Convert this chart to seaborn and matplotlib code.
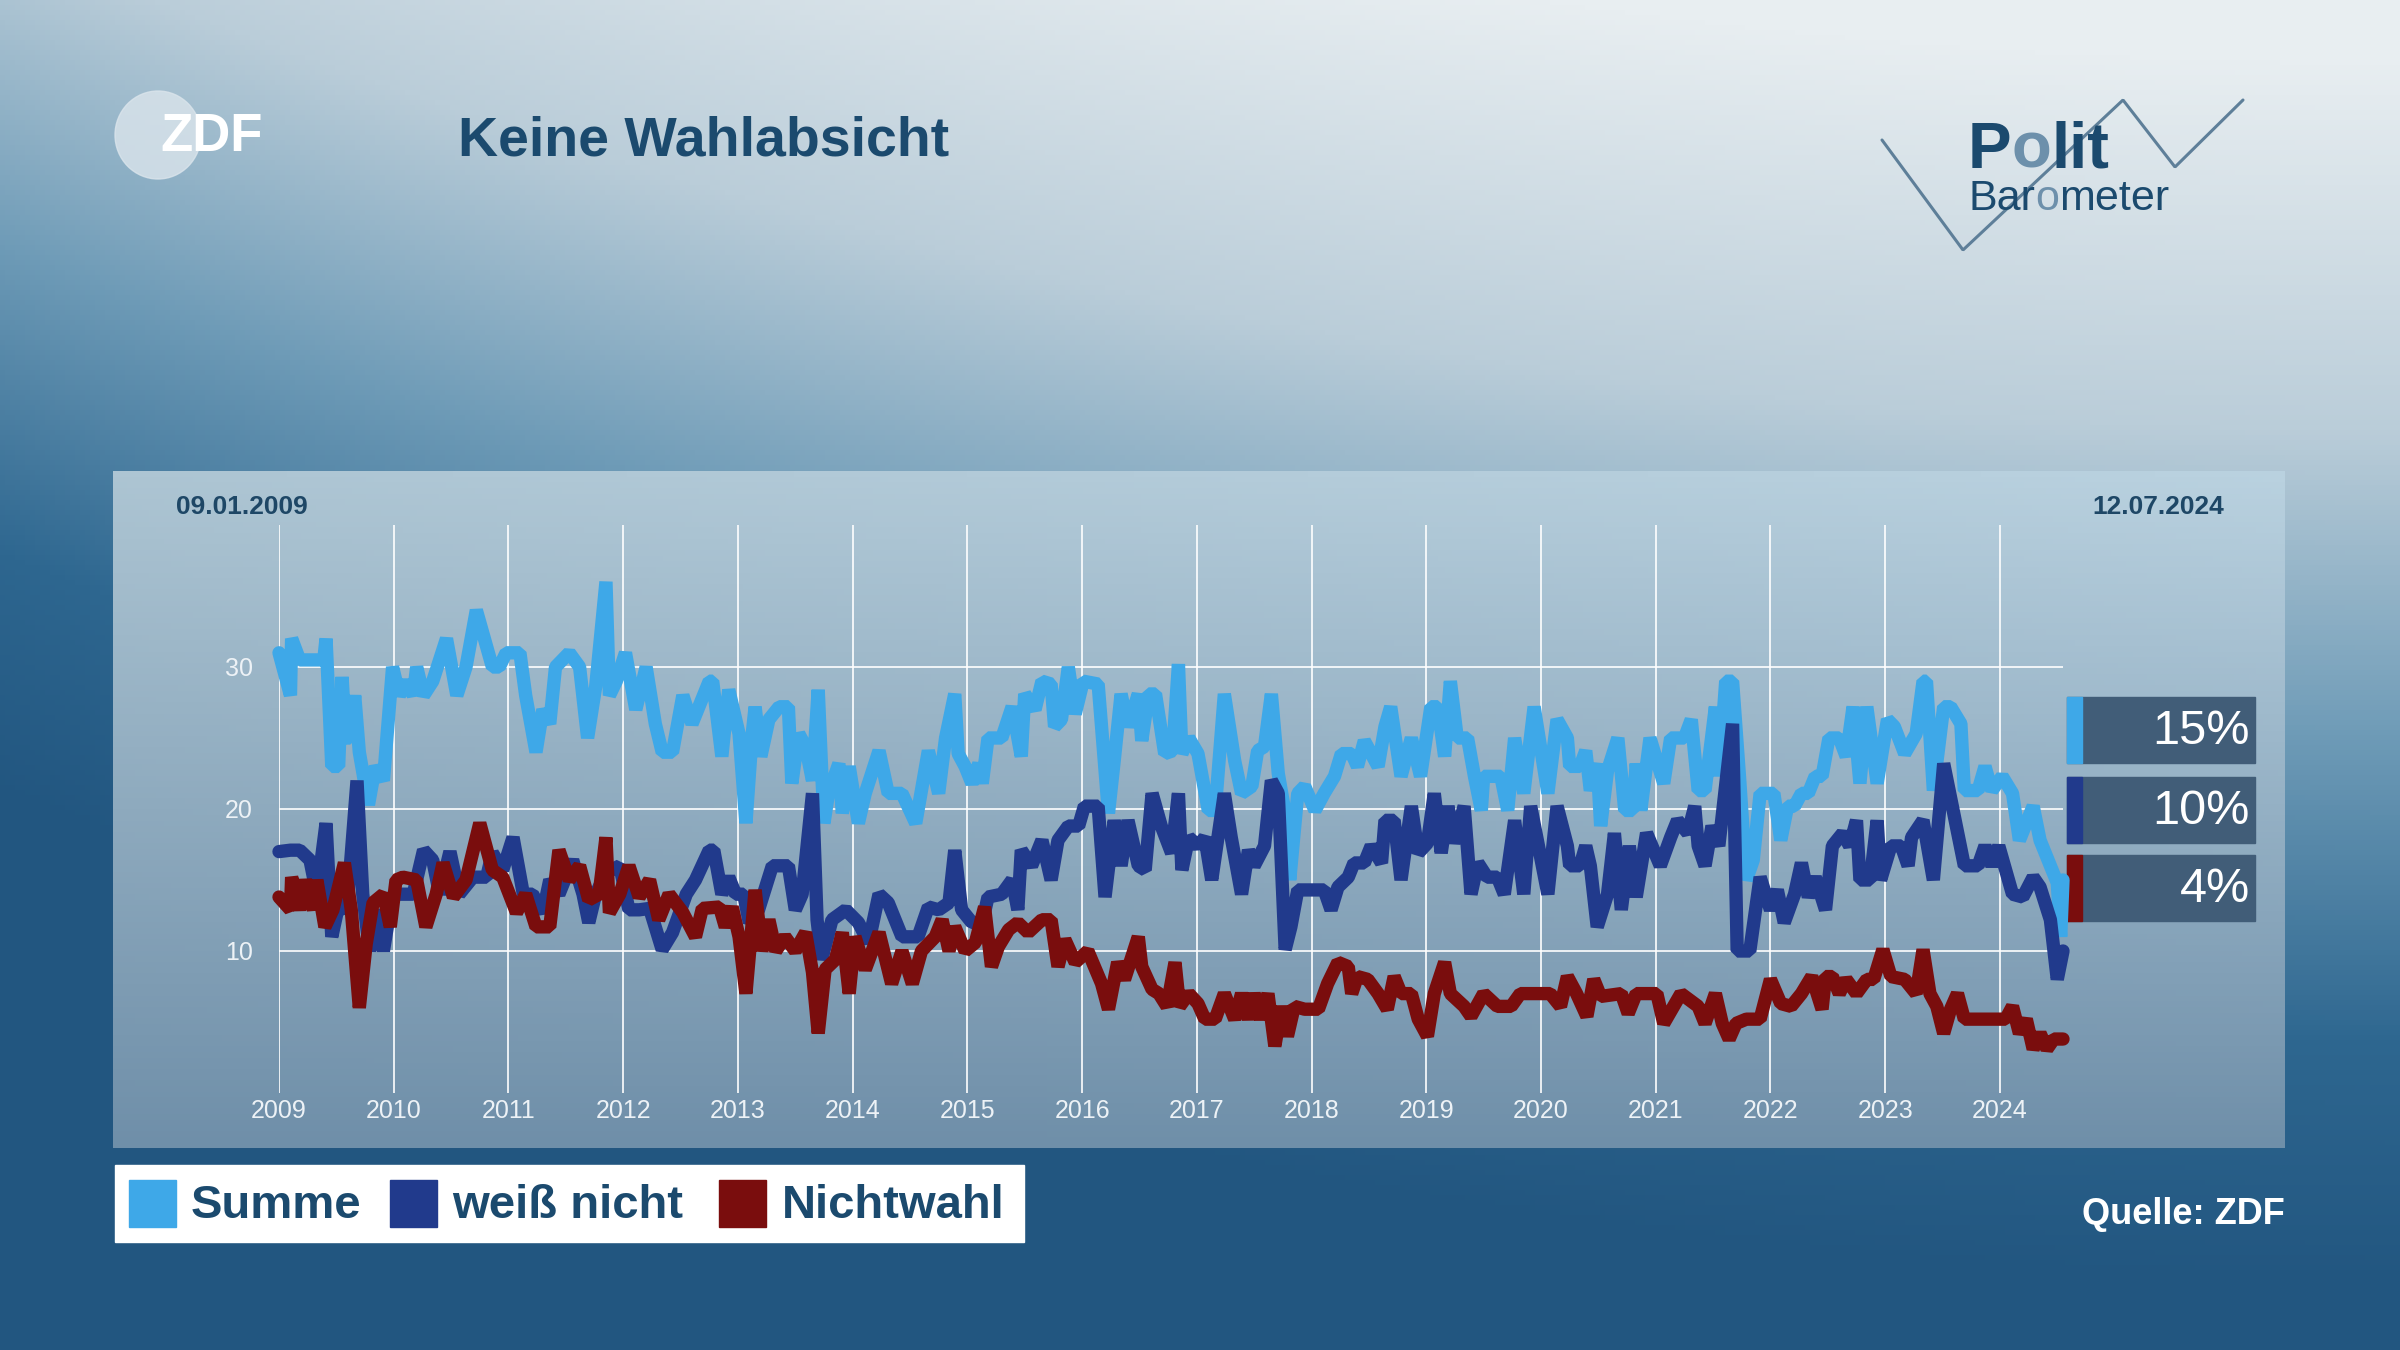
import numpy as np
import pandas as pd
import matplotlib
matplotlib.use("Agg")
import matplotlib.pyplot as plt
from matplotlib.patches import Rectangle, Ellipse
from matplotlib.colors import to_rgb
import seaborn as sns

# ---- data (dates as decimal years) ----
summe_t = [2009.00, 2009.10, 2009.11, 2009.18, 2009.39, 2009.41, 2009.46, 2009.52, 2009.55, 2009.58,
           2009.62, 2009.66, 2009.70, 2009.78, 2009.84, 2009.91, 2009.99, 2010.05, 2010.11, 2010.17,
           2010.20, 2010.26, 2010.34, 2010.46, 2010.55, 2010.63, 2010.72, 2010.86, 2010.92, 2010.98,
           2011.10, 2011.15, 2011.24, 2011.30, 2011.36, 2011.41, 2011.53, 2011.62, 2011.69, 2011.76,
           2011.85, 2011.88, 2011.94, 2012.02, 2012.11, 2012.20, 2012.28, 2012.34, 2012.43, 2012.52,
           2012.60, 2012.75, 2012.78, 2012.86, 2012.92, 2013.01, 2013.07, 2013.125, 2013.15, 2013.20,
           2013.27, 2013.36, 2013.44, 2013.47, 2013.53, 2013.59, 2013.65, 2013.70, 2013.75, 2013.79,
           2013.88, 2013.91, 2013.97, 2014.05, 2014.11, 2014.23, 2014.31, 2014.43, 2014.55, 2014.66,
           2014.75, 2014.81, 2014.89, 2014.92, 2014.98, 2015.04, 2015.10, 2015.13, 2015.18, 2015.30,
           2015.39, 2015.47, 2015.50, 2015.59, 2015.65, 2015.73, 2015.76, 2015.82, 2015.88, 2015.94,
           2016.01, 2016.14, 2016.23, 2016.28, 2016.34, 2016.40, 2016.49, 2016.52, 2016.58, 2016.64,
           2016.72, 2016.79, 2016.84, 2016.87, 2016.93, 2017.01, 2017.10, 2017.16, 2017.24, 2017.33,
           2017.39, 2017.48, 2017.53, 2017.59, 2017.65, 2017.71, 2017.77, 2017.81, 2017.88, 2017.94,
           2018.03, 2018.11, 2018.20, 2018.26, 2018.35, 2018.40, 2018.46, 2018.52, 2018.58, 2018.64,
           2018.69, 2018.78, 2018.87, 2018.95, 2019.04, 2019.10, 2019.16, 2019.21, 2019.27, 2019.36,
           2019.42, 2019.48, 2019.50, 2019.65, 2019.71, 2019.77, 2019.85, 2019.94, 2020.06, 2020.14,
           2020.23, 2020.25, 2020.34, 2020.39, 2020.43, 2020.49, 2020.52, 2020.58, 2020.67, 2020.73,
           2020.80, 2020.83, 2020.87, 2020.95, 2021.07, 2021.13, 2021.25, 2021.31, 2021.37, 2021.43,
           2021.52, 2021.55, 2021.61, 2021.67, 2021.73, 2021.79, 2021.85, 2021.91, 2022.03, 2022.09,
           2022.15, 2022.21, 2022.27, 2022.33, 2022.39, 2022.45, 2022.51, 2022.60, 2022.66, 2022.72,
           2022.78, 2022.84, 2022.93, 2023.02, 2023.08, 2023.17, 2023.27, 2023.33, 2023.36, 2023.42,
           2023.51, 2023.57, 2023.66, 2023.69, 2023.81, 2023.87, 2023.93, 2024.02, 2024.11, 2024.17,
           2024.29, 2024.35, 2024.44, 2024.50, 2024.53, 2024.55]
summe_v = [31, 28, 32, 30.5, 30.5, 32, 23, 23, 29.3, 25,
           25, 28, 24, 20.3, 23, 22, 30, 28, 29, 28,
           30, 28, 29, 32, 28, 30, 34, 30, 30, 31,
           31, 28, 24, 27, 26, 30, 31, 30, 25, 28.6,
           36, 28, 29, 31, 27, 30, 26, 24, 24, 28,
           26, 29, 29, 23.7, 28.4, 25.3, 19, 25.3, 27.2, 23.7,
           26.3, 27.2, 27.2, 21.8, 25.3, 24.4, 22, 28.4, 19, 21.1,
           23.2, 19.7, 23, 19, 21.1, 24.1, 21.1, 21.1, 19, 24.1,
           21.1, 25, 28.1, 23.9, 23, 21.8, 23.2, 21.8, 25, 25,
           27.2, 23.7, 28.1, 27, 29, 28.8, 25.8, 26.3, 30, 26.7,
           29, 28.8, 19.7, 23.4, 28.1, 25.8, 28.1, 24.8, 28.1, 28.1,
           23.9, 24.1, 30.2, 23.9, 25, 23.9, 19.9, 19.9, 28.1, 23.4,
           21.1, 21.6, 24.1, 24.4, 28.1, 22.5, 19.7, 15, 21.1, 21.6,
           19.9, 21.1, 22.3, 23.9, 23.9, 23, 24.8, 23.9, 23, 25.8,
           27.2, 22.3, 25, 22.3, 27.2, 27.2, 23.7, 29, 25, 25,
           22.3, 19.9, 22.3, 22.3, 19.9, 25, 21.1, 27.2, 21.1, 26.3,
           25, 23, 23, 24.1, 21.3, 23.2, 18.8, 22.7, 25, 19.9,
           19.9, 23.2, 19.9, 25, 21.8, 25, 25, 26.3, 21.3, 21.3,
           27.2, 22.3, 29, 29, 22.3, 15, 16.4, 21.1, 21.1, 17.8,
           20.2, 20.2, 21.1, 21.1, 22.3, 22.3, 25, 25, 23.7, 27.2,
           21.8, 27.2, 21.8, 26.3, 25.8, 23.9, 25.3, 29, 29, 21.3,
           27.2, 27.2, 26, 21.3, 21.3, 23, 21.3, 22.3, 21.1, 17.8,
           20.2, 17.8, 16, 14.8, 11, 15]

weiss_t = [2009.00, 2009.10, 2009.18, 2009.27, 2009.33, 2009.41, 2009.46, 2009.53, 2009.59, 2009.68,
           2009.73, 2009.79, 2009.85, 2009.91, 2009.99, 2010.05, 2010.17, 2010.26, 2010.34, 2010.40,
           2010.49, 2010.57, 2010.69, 2010.81, 2010.86, 2010.95, 2011.04, 2011.13, 2011.21, 2011.30,
           2011.36, 2011.44, 2011.56, 2011.65, 2011.70, 2011.76, 2011.85, 2011.97, 2012.05, 2012.14,
           2012.23, 2012.34, 2012.43, 2012.55, 2012.63, 2012.75, 2012.79, 2012.86, 2012.92, 2012.98,
           2013.05, 2013.10, 2013.18, 2013.30, 2013.44, 2013.50, 2013.56, 2013.65, 2013.69, 2013.73,
           2013.82, 2013.94, 2014.05, 2014.14, 2014.23, 2014.31, 2014.43, 2014.57, 2014.66, 2014.75,
           2014.84, 2014.89, 2014.95, 2015.04, 2015.13, 2015.18, 2015.30, 2015.39, 2015.44, 2015.47,
           2015.56, 2015.65, 2015.73, 2015.79, 2015.88, 2015.97, 2016.02, 2016.14, 2016.20, 2016.28,
           2016.34, 2016.40, 2016.49, 2016.55, 2016.61, 2016.69, 2016.78, 2016.84, 2016.87, 2016.93,
           2017.01, 2017.07, 2017.13, 2017.24, 2017.30, 2017.39, 2017.45, 2017.50, 2017.59, 2017.65,
           2017.71, 2017.77, 2017.82, 2017.88, 2017.97, 2018.11, 2018.17, 2018.23, 2018.32, 2018.37,
           2018.46, 2018.52, 2018.61, 2018.64, 2018.72, 2018.78, 2018.87, 2018.93, 2019.01, 2019.07,
           2019.13, 2019.19, 2019.24, 2019.33, 2019.39, 2019.45, 2019.53, 2019.62, 2019.68, 2019.77,
           2019.85, 2019.91, 2020.06, 2020.14, 2020.23, 2020.25, 2020.34, 2020.39, 2020.43, 2020.49,
           2020.58, 2020.64, 2020.70, 2020.77, 2020.83, 2020.92, 2021.04, 2021.13, 2021.19, 2021.28,
           2021.34, 2021.37, 2021.43, 2021.49, 2021.55, 2021.67, 2021.71, 2021.82, 2021.91, 2022.00,
           2022.06, 2022.12, 2022.21, 2022.27, 2022.33, 2022.39, 2022.48, 2022.54, 2022.63, 2022.69,
           2022.75, 2022.78, 2022.87, 2022.93, 2022.96, 2023.05, 2023.14, 2023.20, 2023.23, 2023.33,
           2023.42, 2023.51, 2023.69, 2023.81, 2023.87, 2023.93, 2023.99, 2024.11, 2024.20, 2024.29,
           2024.35, 2024.44, 2024.50, 2024.55]
weiss_v = [17, 17.1, 17.1, 16.4, 14, 19, 11, 13.6, 12.7, 22,
           14, 10, 12.9, 10, 14, 14, 14, 17.1, 16.4, 14,
           17, 14, 15.2, 15.2, 16.9, 15.7, 18, 14, 14, 12.7,
           15, 14, 16.4, 14, 12, 14, 15.5, 16, 12.9, 12.9,
           13, 10.1, 11.3, 14, 15, 17.1, 17.1, 14, 15.2, 14,
           14, 12, 12.9, 16, 16, 12.9, 14, 21.1, 12.2, 9.4,
           12.2, 12.9, 12, 10.6, 14, 13.4, 11, 11, 13.1, 12.9,
           13.4, 17.1, 12.9, 12, 12, 13.8, 14, 15, 12.9, 17.1,
           16, 17.8, 15, 17.8, 18.8, 18.8, 20.2, 20.2, 13.8, 19.2,
           16, 19.2, 16, 15.7, 21.1, 18.8, 16.9, 21.1, 15.7, 18,
           17.4, 18, 15, 21.1, 18, 14, 17.1, 16, 17.4, 22,
           21.1, 10.1, 11.7, 14.3, 14.3, 14.3, 12.9, 14.5, 15.2, 16.2,
           16.2, 17.4, 16.2, 19.2, 19.2, 15, 20.2, 16.9, 17.6, 21.1,
           16.9, 20.2, 17.6, 20.2, 14, 16.2, 15.2, 15.2, 14, 19.2,
           14, 20.2, 14, 20.2, 17.4, 16, 16, 17.4, 16, 11.7,
           14, 18.3, 12.9, 17.4, 13.8, 18.3, 16, 18, 19.2, 18.3,
           20.2, 17.4, 16, 18.8, 17.4, 26, 10, 10, 15.2, 12.9,
           14.3, 12, 14, 16.2, 13.8, 15.2, 12.9, 17.4, 18.3, 17.4,
           19.2, 15, 15, 19.2, 15, 17.4, 17.4, 16, 18, 19.2,
           15, 23.2, 16, 16, 17.4, 16, 17.4, 14, 13.8, 15.2,
           14.5, 12.2, 8, 10]

nicht_t = [2009.00, 2009.10, 2009.11, 2009.18, 2009.23, 2009.30, 2009.33, 2009.40, 2009.47, 2009.57,
           2009.63, 2009.70, 2009.76, 2009.82, 2009.91, 2009.97, 2010.02, 2010.08, 2010.20, 2010.28,
           2010.37, 2010.43, 2010.52, 2010.63, 2010.75, 2010.86, 2010.95, 2011.07, 2011.15, 2011.24,
           2011.36, 2011.44, 2011.53, 2011.62, 2011.70, 2011.79, 2011.85, 2011.88, 2011.97, 2012.05,
           2012.14, 2012.23, 2012.31, 2012.40, 2012.52, 2012.63, 2012.69, 2012.84, 2012.89, 2012.95,
           2013.01, 2013.07, 2013.15, 2013.21, 2013.27, 2013.33, 2013.41, 2013.50, 2013.59, 2013.65,
           2013.70, 2013.76, 2013.85, 2013.91, 2013.97, 2014.02, 2014.11, 2014.23, 2014.34, 2014.43,
           2014.52, 2014.60, 2014.72, 2014.78, 2014.84, 2014.89, 2014.98, 2015.07, 2015.15, 2015.21,
           2015.27, 2015.36, 2015.44, 2015.53, 2015.65, 2015.73, 2015.79, 2015.85, 2015.94, 2016.05,
           2016.17, 2016.23, 2016.31, 2016.37, 2016.49, 2016.52, 2016.61, 2016.67, 2016.74, 2016.81,
           2016.85, 2016.93, 2017.01, 2017.07, 2017.16, 2017.24, 2017.33, 2017.39, 2017.45, 2017.50,
           2017.56, 2017.62, 2017.68, 2017.74, 2017.79, 2017.85, 2017.94, 2018.06, 2018.14, 2018.23,
           2018.32, 2018.35, 2018.40, 2018.49, 2018.58, 2018.66, 2018.72, 2018.78, 2018.87, 2018.93,
           2019.01, 2019.07, 2019.16, 2019.21, 2019.33, 2019.39, 2019.50, 2019.62, 2019.74, 2019.82,
           2019.97, 2020.08, 2020.17, 2020.23, 2020.31, 2020.40, 2020.46, 2020.52, 2020.70, 2020.76,
           2020.83, 2021.01, 2021.07, 2021.22, 2021.37, 2021.43, 2021.52, 2021.58, 2021.64, 2021.70,
           2021.79, 2021.91, 2022.00, 2022.09, 2022.18, 2022.27, 2022.36, 2022.45, 2022.48, 2022.54,
           2022.60, 2022.66, 2022.75, 2022.84, 2022.90, 2022.98, 2023.05, 2023.17, 2023.27, 2023.33,
           2023.39, 2023.45, 2023.51, 2023.57, 2023.63, 2023.69, 2024.05, 2024.11, 2024.17, 2024.23,
           2024.29, 2024.35, 2024.41, 2024.47, 2024.55]
nicht_v = [13.8, 12.9, 15.2, 12.9, 15, 12.9, 15, 11.7, 12.9, 16.2,
           12.9, 6, 10.5, 13.4, 14, 11.7, 15, 15.2, 15, 11.7,
           14, 16.2, 13.8, 15, 19, 15.7, 15.2, 12.7, 14, 11.7,
           11.7, 17.1, 15, 16, 13.6, 14, 18, 12.7, 14, 16,
           13.8, 15, 12.2, 14, 12.7, 11, 13, 13.1, 11.7, 13.1,
           11, 7, 14.3, 10, 12.2, 10, 11, 10, 11.3, 8.5,
           4.2, 8.7, 9.4, 11.3, 7, 11, 8.7, 11.3, 7.7, 10,
           7.7, 10, 11, 12.2, 10, 11.7, 10, 10.6, 13.1, 8.9,
           10.3, 11.5, 12, 11.3, 12.2, 12.2, 8.9, 10.8, 9.2, 10,
           7.7, 5.9, 9.2, 8, 11, 8.9, 7.3, 7, 6.1, 9.2,
           6.1, 7, 6.3, 5.2, 5.2, 7, 5.2, 7, 5.2, 7,
           5.2, 7, 3.3, 6.1, 4, 6.1, 5.9, 5.9, 7.7, 9.2,
           8.9, 7, 8.2, 8, 7, 5.9, 8.2, 7, 7, 5.2,
           4, 7, 9.2, 7, 6.1, 5.4, 7, 6.1, 6.1, 7,
           7, 7, 6.1, 8.2, 7, 5.4, 8, 6.8, 7, 5.6,
           7, 7, 4.9, 7, 6.1, 4.9, 7, 4.9, 3.8, 4.9,
           5.2, 5.2, 8, 6.3, 6.1, 7, 8.2, 5.9, 8.2, 8.2,
           7, 8, 7, 8, 8, 10.1, 8.2, 8, 7, 10.1,
           7, 6.1, 4.2, 5.9, 7, 5.2, 5.2, 6.1, 4.2, 5.2,
           3.1, 4.2, 3.1, 3.8, 3.8]

series_names = ["Summe", "weiß nicht", "Nichtwahl"]
series_colors = ["#3ea8e8", "#213a8c", "#7a0d0d"]
year_ticks = list(range(2009, 2025))
value_ticks = [10, 20, 30]
first_date = "09.01.2009"
last_date = "12.07.2024"

df = pd.concat([
    pd.DataFrame({"jahr": summe_t, "wert": summe_v, "reihe": "Summe"}),
    pd.DataFrame({"jahr": weiss_t, "wert": weiss_v, "reihe": "weiß nicht"}),
    pd.DataFrame({"jahr": nicht_t, "wert": nicht_v, "reihe": "Nichtwahl"}),
], ignore_index=True)

sns.set_theme(style="white")
plt.rcParams["font.family"] = ["Liberation Sans", "DejaVu Sans"]
plt.rcParams["lines.solid_joinstyle"] = "bevel"

DARK = "#1b4a6e"
fig = plt.figure(figsize=(24, 13.5), dpi=100)

# background in pixel coordinates
bg = fig.add_axes([0, 0, 1, 1])
bg.set_xlim(0, 2400)
bg.set_ylim(1350, 0)
bg.axis("off")

yy, xx = np.mgrid[0:1:270j, 0:1:480j]
d = np.clip(yy * 1.1 + 0.4 * (1 - xx) ** 2 - 0.05, 0, 1)
stops = [0, 0.3, 0.55, 0.8, 1]
cols = [to_rgb(c) for c in ["#e8eef1", "#bacdd9", "#6e9bb7", "#2e6790", "#225680"]]
img = np.stack([np.interp(d, stops, [c[i] for c in cols]) for i in range(3)], axis=-1)
bg.imshow(img, extent=(0, 2400, 1350, 0), aspect="auto", zorder=0)

# chart panel
py, px = np.mgrid[0:1:120j, 0:1:300j]
top, bot = np.array(to_rgb("#adc5d3")), np.array(to_rgb("#6f8fa9"))
pimg = top * (1 - py[..., None]) + bot * py[..., None]
pimg = np.clip(pimg + 0.05 * (px * (1 - py))[..., None], 0, 1)
bg.imshow(pimg, extent=(113, 2285, 1148, 471), aspect="auto", zorder=1)

bg.text(176, 507, first_date, fontsize=19, fontweight="bold", color="#1e4766", va="center", zorder=2)
bg.text(2224, 507, last_date, fontsize=19, fontweight="bold", color="#1e4766", va="center",
        ha="right", zorder=2)

# title + ZDF logo
bg.add_patch(Ellipse((158, 135), 86, 88, color="#dbe5ec", alpha=0.8, zorder=2))
bg.text(160, 137, "ZDF", fontsize=38, fontweight="bold", color="white", va="center", zorder=3)
bg.text(458, 141, "Keine Wahlabsicht", fontsize=40, fontweight="bold", color=DARK,
        va="center", zorder=2)

# Politbarometer logo
bg.plot([1882, 1963, 2123, 2175, 2243], [140, 250, 100, 167, 100], color="#5e7f99", lw=2.2, zorder=2)
renderer = fig.canvas.get_renderer()


def draw_chunks(x, y, chunks, size, weight, gap=0):
    for s, c in chunks:
        t = bg.text(x, y, s, color=c, fontsize=size, fontweight=weight, va="baseline", zorder=3)
        x += t.get_window_extent(renderer=renderer).width + gap


LIGHT = "#6d90ab"
draw_chunks(1968, 168, [("P", DARK), ("o", LIGHT), ("lit", DARK)], 47, "bold")
draw_chunks(1968, 210, [("Bar", DARK), ("o", LIGHT), ("meter", DARK)], 31, "normal")

# legend box
bg.add_patch(Rectangle((115, 1165), 909, 77, color="white", zorder=2))
for sx, tx, name, col in zip([129, 390, 719], [191, 452, 782], series_names, series_colors):
    bg.add_patch(Rectangle((sx, 1180), 47, 47, color=col, zorder=3))
    bg.text(tx, 1206, name, fontsize=34, fontweight="bold", color=DARK, va="center", zorder=3)

bg.text(2285, 1214, "Quelle: ZDF", fontsize=26, fontweight="bold", color="white",
        ha="right", va="center", zorder=2)

# value boxes at the right
last_vals = [summe_v[-1], weiss_v[-1], nicht_v[-1]]
for y0, col, v in zip([697, 777, 855], series_colors, last_vals):
    bg.add_patch(Rectangle((2067, y0), 188, 66, color="#415d78", zorder=2))
    bg.add_patch(Rectangle((2067, y0), 15, 66, color=col, zorder=3))
    bg.text(2250, y0 + 35, f"{round(v)}%", fontsize=35, color="white", ha="right",
            va="center", zorder=3)

# main plot
ax = fig.add_axes([279 / 2400, 1 - 1093 / 1350, (2063 - 279) / 2400, (1093 - 525) / 1350])
ax.set_facecolor("none")
sns.lineplot(data=df, x="jahr", y="wert", hue="reihe", hue_order=series_names,
             palette=dict(zip(series_names, series_colors)), estimator=None, sort=False,
             linewidth=9.6, legend=False, clip_on=False, ax=ax)
ax.set_xlim(2009, 2024.55)
ax.set_ylim(0, 40)
ax.set_xticks(year_ticks)
ax.set_xticklabels([str(y) for y in year_ticks])
ax.set_yticks(value_ticks)
ax.grid(True, color="white", lw=1.4, alpha=0.85)
ax.set_axisbelow(True)
ax.tick_params(axis="x", length=0, pad=4, labelsize=18, labelcolor="#edf2f6")
ax.tick_params(axis="y", length=0, pad=19, labelsize=18, labelcolor="#edf2f6")
ax.set_xlabel("")
ax.set_ylabel("")
for s in ax.spines.values():
    s.set_visible(False)

fig.savefig("out.png", dpi=100)
